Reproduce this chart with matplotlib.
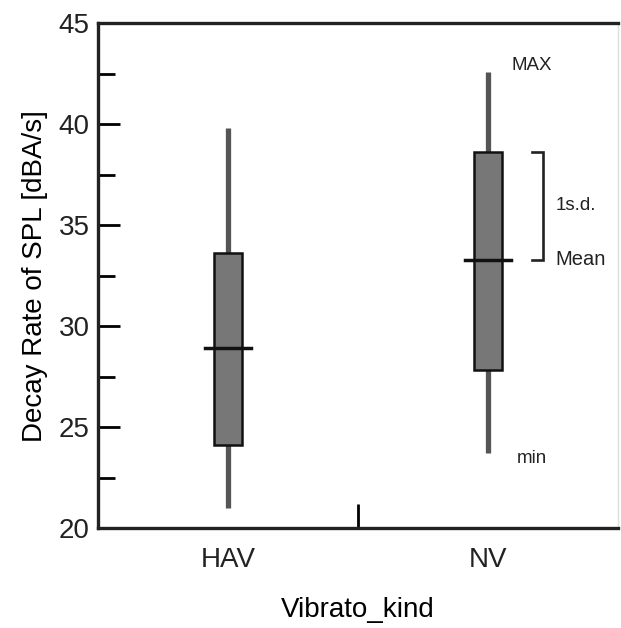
"""Decay rate of SPL by vibrato kind: mean, +/-1 s.d. box, min-max whisker."""
import matplotlib
matplotlib.use("Agg")
import matplotlib.pyplot as plt
from matplotlib.patches import Rectangle
from matplotlib.ticker import MultipleLocator

plt.rcParams.update({
    "font.family": ["Liberation Sans", "DejaVu Sans"],
    "font.size": 20,
    "text.color": "#222222",
    "ytick.labelcolor": "#222222",
})

categories = ["HAV", "NV"]
vmax = [39.8, 42.6]
sd_high = [33.6, 38.6]
means = [28.9, 33.3]
sd_low = [24.1, 27.85]
vmin = [21.0, 23.7]

positions = [1, 3]
NARROW = ["Liberation Sans Narrow", "Liberation Sans", "DejaVu Sans"]

fig = plt.figure(figsize=(6.21, 6.28), dpi=100)
ax = fig.add_axes([0.158, 0.159, 0.837, 0.804])

box_w = 0.21
mean_w = 0.36
for x, hi, top, m, bot, lo in zip(positions, vmax, sd_high, means, sd_low, vmin):
    ax.plot([x, x], [lo, hi], color="#555555", lw=3.8, solid_capstyle="butt", zorder=1)
    ax.add_patch(Rectangle((x - box_w / 2, bot), box_w, top - bot,
                           facecolor="#777777", edgecolor="#111111", lw=1.8, zorder=2))
    ax.plot([x - mean_w / 2, x + mean_w / 2], [m, m], color="#111111", lw=2.5, zorder=3)

# legend-like annotation next to NV
ax.plot([3.34, 3.42, 3.42, 3.34], [sd_high[1], sd_high[1], means[1], means[1]],
        color="#222222", lw=1.9, solid_joinstyle="miter")
ax.text(3.18, 42.9, "MAX", fontsize=13.5, family=NARROW, va="center", ha="left")
ax.text(3.52, 36.0, "1s.d.", fontsize=13.5, family=NARROW, va="center", ha="left")
ax.text(3.52, means[1], "Mean", fontsize=14.5, family=NARROW, va="center", ha="left")
ax.text(3.22, 23.45, "min", fontsize=13.5, family=NARROW, va="center", ha="left")

ax.set_xlim(0, 4)
ax.set_ylim(20, 45)
ax.set_xticks([2])
ax.set_xticklabels([""])
for x, c in zip(positions, categories):
    ax.text(x, 18.4, c, ha="center", va="center", fontsize=20, family=NARROW)
ax.yaxis.set_major_locator(MultipleLocator(5))
ax.yaxis.set_minor_locator(MultipleLocator(2.5))
ax.tick_params(axis="y", which="major", direction="in", length=16, width=2, pad=6)
ax.tick_params(axis="y", which="minor", direction="in", length=12, width=2)
ax.tick_params(axis="x", which="major", direction="in", length=17, width=2)

ax.set_ylabel("Decay Rate of SPL [dBA/s]", fontsize=20, labelpad=8)
ax.set_xlabel("Vibrato_kind", fontsize=20, labelpad=46)

for side in ["left", "bottom", "top"]:
    ax.spines[side].set_linewidth(2.4)
    ax.spines[side].set_color("#222222")
ax.spines["right"].set_color("#dddddd")
ax.spines["right"].set_linewidth(1)

fig.savefig("out.png", dpi=100)
